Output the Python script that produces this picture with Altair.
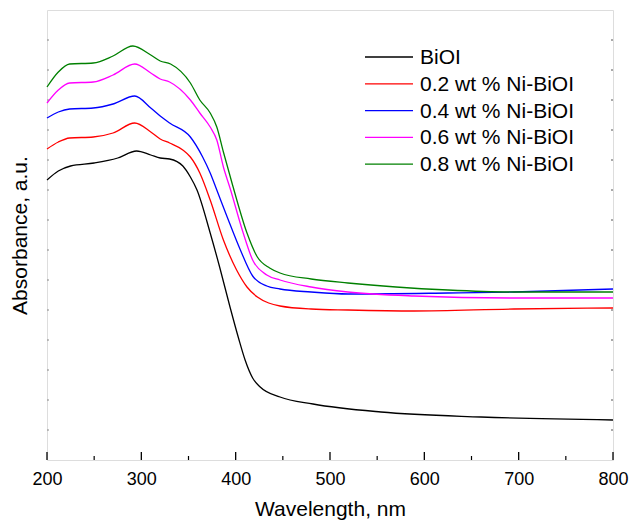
import altair as alt
import pandas as pd

# ---- data (absorbance in arbitrary units) ----
series_names = ["BiOI", "0.2 wt % Ni-BiOI", "0.4 wt % Ni-BiOI",
                "0.6 wt % Ni-BiOI", "0.8 wt % Ni-BiOI"]
series_colors = ["#000000", "#ff0000", "#0000ff", "#ff00ff", "#008000"]

wl_biol = [200, 212, 225, 250, 275, 295, 310, 320, 330, 344, 352, 359, 373, 383,
           394, 403, 410, 418, 426, 447, 482, 554, 660, 800]
ab_biol = [2.80, 2.89, 2.94, 2.97, 3.02, 3.09, 3.05, 3.02, 3.01, 2.94, 2.83, 2.70,
           2.27, 1.93, 1.53, 1.22, 1.00, 0.82, 0.73, 0.63, 0.56, 0.48, 0.43, 0.40]

wl_02 = [200, 212, 224, 249, 270, 293, 310, 320, 330, 344, 352, 362, 373, 387,
         401, 412, 423, 435, 447, 480, 519, 589, 695, 800]
ab_02 = [3.11, 3.18, 3.22, 3.23, 3.27, 3.37, 3.28, 3.21, 3.17, 3.10, 3.03, 2.87,
         2.60, 2.20, 1.90, 1.73, 1.63, 1.57, 1.54, 1.51, 1.50, 1.49, 1.51, 1.52]

wl_04 = [200, 212, 224, 249, 270, 293, 310, 320, 330, 352, 365, 373, 380, 391,
         405, 418, 433, 447, 480, 519, 625, 695, 800]
ab_04 = [3.42, 3.48, 3.51, 3.52, 3.56, 3.64, 3.52, 3.44, 3.37, 3.23, 3.03, 2.87,
         2.70, 2.43, 2.10, 1.84, 1.74, 1.71, 1.68, 1.66, 1.67, 1.68, 1.71]

wl_06 = [200, 212, 224, 249, 270, 293, 310, 320, 330, 352, 362, 373, 380, 387,
         394, 408, 418, 433, 447, 480, 519, 589, 695, 800]
ab_06 = [3.57, 3.70, 3.77, 3.78, 3.85, 3.96, 3.87, 3.81, 3.78, 3.60, 3.47, 3.33,
         3.20, 2.93, 2.72, 2.27, 2.00, 1.85, 1.80, 1.73, 1.68, 1.64, 1.62, 1.62]

wl_08 = [200, 212, 224, 249, 270, 291, 310, 320, 331, 352, 362, 373, 380, 387,
         397, 412, 423, 436, 447, 480, 519, 570, 625, 695, 800]
ab_08 = [3.73, 3.88, 3.96, 3.97, 4.04, 4.14, 4.05, 3.99, 3.96, 3.77, 3.60, 3.47,
         3.33, 3.08, 2.74, 2.27, 2.03, 1.92, 1.87, 1.81, 1.77, 1.73, 1.70, 1.68, 1.68]

x_major = [200, 300, 400, 500, 600, 700, 800]
x_minor = [250, 350, 450, 550, 650, 750]
y_minor = [0.3, 0.6, 0.9, 1.2, 1.5, 1.8, 2.1, 2.4, 2.7, 3.0, 3.3, 3.6, 3.9, 4.2]

all_wl = [wl_biol, wl_02, wl_04, wl_06, wl_08]
all_ab = [ab_biol, ab_02, ab_04, ab_06, ab_08]

rows = []
for name, wls, abs_ in zip(series_names, all_wl, all_ab):
    for w, a in zip(wls, abs_):
        rows.append({"series": name, "wl": w, "ab": a})
df = pd.DataFrame(rows)

FONT = "Liberation Sans"
W, H = 566, 450

xscale = alt.Scale(domain=[200, 800], nice=False, zero=False)
yscale = alt.Scale(domain=[0, 4.5], nice=False, zero=False)

lines = alt.Chart(df).mark_line(strokeWidth=1.3, interpolate="monotone").encode(
    x=alt.X("wl:Q", scale=xscale,
            axis=alt.Axis(values=x_major, format="d", ticks=False, tickSize=0,
                          domain=False, grid=False, labelFontSize=18,
                          labelFont=FONT, labelColor="black", labelPadding=10,
                          labelFlush=False, labelOverlap=False,
                          title="Wavelength, nm", titleFont=FONT,
                          titleFontSize=21, titleFontWeight="normal",
                          titleColor="black", titlePadding=10)),
    y=alt.Y("ab:Q", scale=yscale,
            axis=alt.Axis(labels=False, ticks=False, domain=False, grid=False,
                          title="Absorbance, a.u.", titleFont=FONT,
                          titleFontSize=21, titleFontWeight="normal",
                          titleColor="black", titlePadding=17)),
    color=alt.Color("series:N", sort=series_names,
                    scale=alt.Scale(domain=series_names, range=series_colors),
                    legend=None),
    detail="series:N",
)

major = alt.Chart(pd.DataFrame({"t": x_major})).mark_rule(
    color="black", strokeWidth=1.3).encode(
    x=alt.X("t:Q", scale=xscale), y=alt.value(H), y2=alt.value(H - 8))
minor = alt.Chart(pd.DataFrame({"t": x_minor})).mark_rule(
    color="black", strokeWidth=1.2).encode(
    x=alt.X("t:Q", scale=xscale), y=alt.value(H), y2=alt.value(H - 4))
yt_left = alt.Chart(pd.DataFrame({"t": y_minor})).mark_rule(
    color="#888888", strokeWidth=1).encode(
    y=alt.Y("t:Q", scale=yscale), x=alt.value(0), x2=alt.value(2))
yt_right = alt.Chart(pd.DataFrame({"t": y_minor})).mark_rule(
    color="#555555", strokeWidth=1).encode(
    y=alt.Y("t:Q", scale=yscale), x=alt.value(W - 2), x2=alt.value(W))

legend_layers = []
for i, (name, col) in enumerate(zip(series_names, series_colors)):
    yy = 47 + i * 26.8
    src = alt.Chart(pd.DataFrame({"series": [name]}))
    legend_layers.append(src.mark_rule(color=col, strokeWidth=1.3).encode(
        x=alt.value(318), x2=alt.value(366), y=alt.value(yy)))
    legend_layers.append(src.mark_text(align="left", baseline="middle",
                                       font=FONT, fontSize=21, color="black").encode(
        text="series:N", x=alt.value(373), y=alt.value(yy + 1)))

chart = alt.layer(lines, major, minor, yt_left, yt_right, *legend_layers).properties(
    width=W, height=H,
    padding={"left": 47, "top": 10, "right": 16, "bottom": 60},
    autosize=alt.AutoSizeParams(type="none"),
).configure_view(stroke="black", strokeWidth=1.5).configure(background="white")

chart.save("out.html", embed_options={"renderer": "svg", "actions": False})
